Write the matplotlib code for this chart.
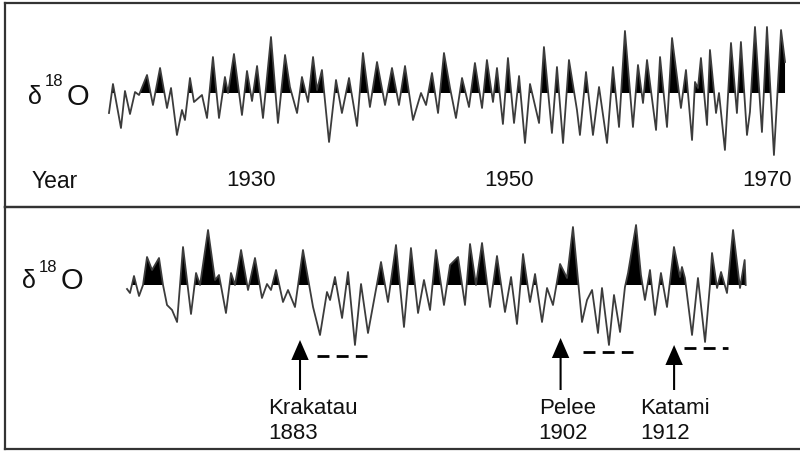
import matplotlib
matplotlib.use("Agg")
import matplotlib.pyplot as plt
import numpy as np

plt.rcParams['font.family'] = ['Liberation Sans', 'DejaVu Sans']

# top record, 1919-1971 (peaks and troughs)
top_years = [1918.99, 1919.30, 1919.92, 1920.23, 1920.62, 1921.01, 1921.32, 1921.94, 1922.40, 1922.95,
             1923.49, 1923.80, 1924.26, 1924.65, 1924.88, 1925.27, 1925.58, 1926.20, 1926.59, 1927.05,
             1927.52, 1927.98, 1928.22, 1928.68, 1929.30, 1929.69, 1930.08, 1930.47, 1930.93, 1931.55,
             1932.09, 1932.64, 1933.02, 1933.57, 1933.95, 1934.42, 1934.81, 1935.12, 1935.50, 1936.05,
             1936.59, 1937.05, 1937.60, 1938.22, 1938.68, 1939.22, 1939.77, 1940.39, 1940.93, 1941.47,
             1941.94, 1942.56, 1943.18, 1943.57, 1944.03, 1944.50, 1944.96, 1945.43, 1945.89, 1946.36,
             1946.90, 1947.36, 1947.91, 1948.29, 1948.76, 1949.07, 1949.53, 1949.92, 1950.39, 1950.78,
             1951.24, 1951.63, 1952.33, 1952.71, 1953.33, 1953.72, 1954.19, 1954.65, 1955.27, 1955.50,
             1955.97, 1956.51, 1956.98, 1957.60, 1958.06, 1958.53, 1958.99, 1959.61, 1960.00, 1960.39,
             1960.70, 1961.40, 1961.71, 1962.25, 1962.64, 1963.33, 1963.72, 1964.19, 1964.42, 1964.65,
             1964.88, 1965.35, 1965.58, 1966.05, 1966.28, 1966.74, 1967.21, 1967.67, 1967.98, 1968.45,
             1968.68, 1969.07, 1969.61, 1970.00, 1970.54, 1971.09, 1971.40]
top_d18o = [-2.0, 0.9, -3.5, 0.2, -2.1, 0.1, -0.2, 1.8, -1.2, 2.5,
            -1.5, 0.5, -4.2, -1.7, -2.7, 1.5, -0.9, -0.2, -2.5, 3.6,
            -2.5, 1.6, 0.0, 3.9, -2.2, 2.2, -0.8, 2.7, -2.5, 5.6,
            -3.0, 3.8, 0.6, -2.0, 1.6, -0.9, 3.6, 0.3, 2.3, -4.9,
            1.3, -2.0, 1.5, -3.3, 4.0, -1.4, 3.1, -1.2, 2.5, -1.2,
            2.7, -2.7, 0.0, -1.2, 2.0, -2.0, 4.0, 0.5, -2.5, 1.5,
            -1.4, 3.0, -1.5, 3.3, -0.9, 2.5, -3.1, 3.5, -3.0, 1.7,
            -5.0, 0.9, -3.0, 4.6, -4.0, 2.6, -5.0, 3.3, -1.7, -4.2,
            2.1, -4.2, 0.6, -5.0, 2.6, -3.4, 6.2, -3.4, 2.8, -1.0,
            3.3, -3.7, 3.6, -3.4, 5.5, -1.5, 2.3, -4.7, 1.1, 0.5,
            3.5, -3.2, 4.3, -2.0, 0.0, -5.7, 5.0, -2.0, 5.1, -4.2,
            -1.9, 6.6, -3.9, 6.6, -6.2, 6.3, 3.1]

# bottom record, 1870-1917
bot_years = [1869.59, 1869.82, 1870.13, 1870.52, 1870.83, 1871.14, 1871.53, 1872.07, 1872.38, 1872.69,
             1873.08, 1873.47, 1873.93, 1874.55, 1874.94, 1875.25, 1875.87, 1876.41, 1876.72, 1877.26,
             1877.65, 1877.96, 1878.43, 1878.97, 1879.51, 1880.05, 1880.44, 1880.75, 1881.14, 1881.68,
             1882.07, 1882.61, 1883.23, 1884.01, 1884.55, 1885.09, 1885.33, 1885.71, 1886.26, 1886.72,
             1887.26, 1887.73, 1888.27, 1888.81, 1889.28, 1889.82, 1890.44, 1891.06, 1891.60, 1892.15,
             1892.61, 1893.08, 1893.54, 1894.16, 1894.63, 1895.25, 1895.79, 1896.18, 1896.64, 1897.11,
             1897.73, 1898.27, 1898.89, 1899.36, 1899.82, 1900.29, 1900.83, 1901.22, 1901.76, 1902.15,
             1902.61, 1903.16, 1903.70, 1904.16, 1904.86, 1905.25, 1905.64, 1906.10, 1906.41, 1906.95,
             1907.34, 1907.81, 1908.19, 1908.43, 1909.05, 1909.43, 1909.74, 1910.13, 1910.52, 1910.98,
             1911.45, 1911.99, 1912.46, 1912.61, 1912.84, 1913.39, 1913.85, 1914.40, 1914.78, 1914.94,
             1915.33, 1915.64, 1916.10, 1916.57, 1917.11, 1917.47, 1917.55]
bot_d18o = [-0.4, -0.8, 0.9, -1.1, 0.0, 2.8, 1.5, 2.7, 0.0, -2.0,
            -2.5, -3.7, 3.8, -2.9, 1.2, 0.0, 5.5, 0.5, 1.0, -2.8,
            1.2, 0.0, 3.5, -0.5, 2.7, -1.3, 0.1, -0.5, 1.5, -1.7,
            -0.5, -2.2, 3.5, -2.2, -5.0, -0.7, -1.5, 0.8, -3.3, 1.3,
            -6.0, 0.1, -4.8, -1.0, 2.3, -1.7, 4.0, -4.2, 3.7, -2.8,
            0.5, -2.5, 3.5, -2.0, 2.0, 2.8, -2.0, 4.1, 0.0, 4.2,
            -2.2, 2.9, -2.7, 0.8, -3.9, 3.1, -1.7, 1.1, -3.7, -0.3,
            -2.0, 2.1, 0.7, 5.8, -3.7, -1.5, -0.5, -4.8, -0.3, -6.0,
            -1.0, -4.7, -0.2, 1.2, 6.0, 1.0, -1.5, 1.5, -3.0, 1.2,
            -2.2, 3.8, 0.8, 1.8, 0.7, -5.0, 0.7, -5.7, 0.0, 3.2,
            -0.3, 1.3, -0.8, 5.5, -0.3, 2.5, 0.0]

tick_years = [1930, 1950, 1970]

# eruptions
names = ['Krakatau', 'Pelee', 'Katami']
erupt_labels = ['1883', '1902', '1912']
arrow_x = [1883.0, 1903.2, 1912.0]
arrow_tip = [-5.5, -5.3, -6.0]
label_x = [1880.5, 1901.5, 1909.4]
dash_start = [1884.3, 1904.9, 1912.8]
dash_end = [1888.2, 1908.8, 1916.2]
dash_level = [-7.1, -6.7, -6.3]

W, H = 800, 451
fig = plt.figure(figsize=(8, 4.51), dpi=100)

def fpos(x, y):
    return x / W, 1 - y / H

frame_col = '#333333'
line_col = '#3c3c3c'
txt_col = '#111111'

ax1 = fig.add_axes([5 / W, 1 - 207 / H, 795 / W, 204 / H])
ax2 = fig.add_axes([5 / W, 1 - 449 / H, 795 / W, 242 / H])

for ax, yrs, vals, ylim, xlim in [
        (ax1, top_years, top_d18o, (-11.4, 9.0), (1910.93, 1972.56)),
        (ax2, bot_years, bot_d18o, (-16.4, 7.8), (1860.13, 1921.76))]:
    yrs = np.array(yrs)
    vals = np.array(vals)
    ax.fill_between(yrs, vals, 0, where=vals >= 0, interpolate=True, color='black', lw=0)
    ax.plot(yrs, vals, color=line_col, lw=1.3, solid_joinstyle='round')
    ax.set_xlim(*xlim)
    ax.set_ylim(*ylim)
    ax.set_xticks([])
    ax.set_yticks([])
    for side in ['top', 'left', 'bottom']:
        ax.spines[side].set_color(frame_col)
        ax.spines[side].set_linewidth(1.6)
    ax.spines['right'].set_visible(False)
    ax.patch.set_alpha(0)

# year labels in top panel
for yr in tick_years:
    ax1.text(yr, -8.8, str(yr), ha='center', va='center', fontsize=16, color=txt_col)
fig.text(*fpos(32, 182), 'Year', ha='left', va='center', fontsize=16.5, color=txt_col)

# delta 18 O labels
for xd, yc, ys in [(35, 97, 81), (29, 281, 267)]:
    fig.text(*fpos(xd, yc), 'δ', ha='center', va='center', fontsize=18, color=txt_col)
    fig.text(*fpos(xd + 19, ys), '18', ha='center', va='center', fontsize=12, color=txt_col)
    fig.text(*fpos(xd + 43, yc), 'O', ha='center', va='center', fontsize=21, color=txt_col)

# eruption arrows, dashes, labels
for i in range(len(names)):
    ax2.arrow(arrow_x[i], -10.5, 0, arrow_tip[i] + 10.5, width=0.16, head_width=1.35,
              head_length=2.0, length_includes_head=True, color='black', lw=0)
    ax2.plot([dash_start[i], dash_end[i]], [dash_level[i], dash_level[i]], color='black',
             lw=2, linestyle=(0, (4.3, 2.6)), solid_capstyle='butt')
    ax2.text(label_x[i], -12.3, names[i], ha='left', va='center', fontsize=16, color=txt_col)
    ax2.text(label_x[i], -14.8, erupt_labels[i], ha='left', va='center', fontsize=16, color=txt_col)

fig.savefig('out.png', dpi=100)
